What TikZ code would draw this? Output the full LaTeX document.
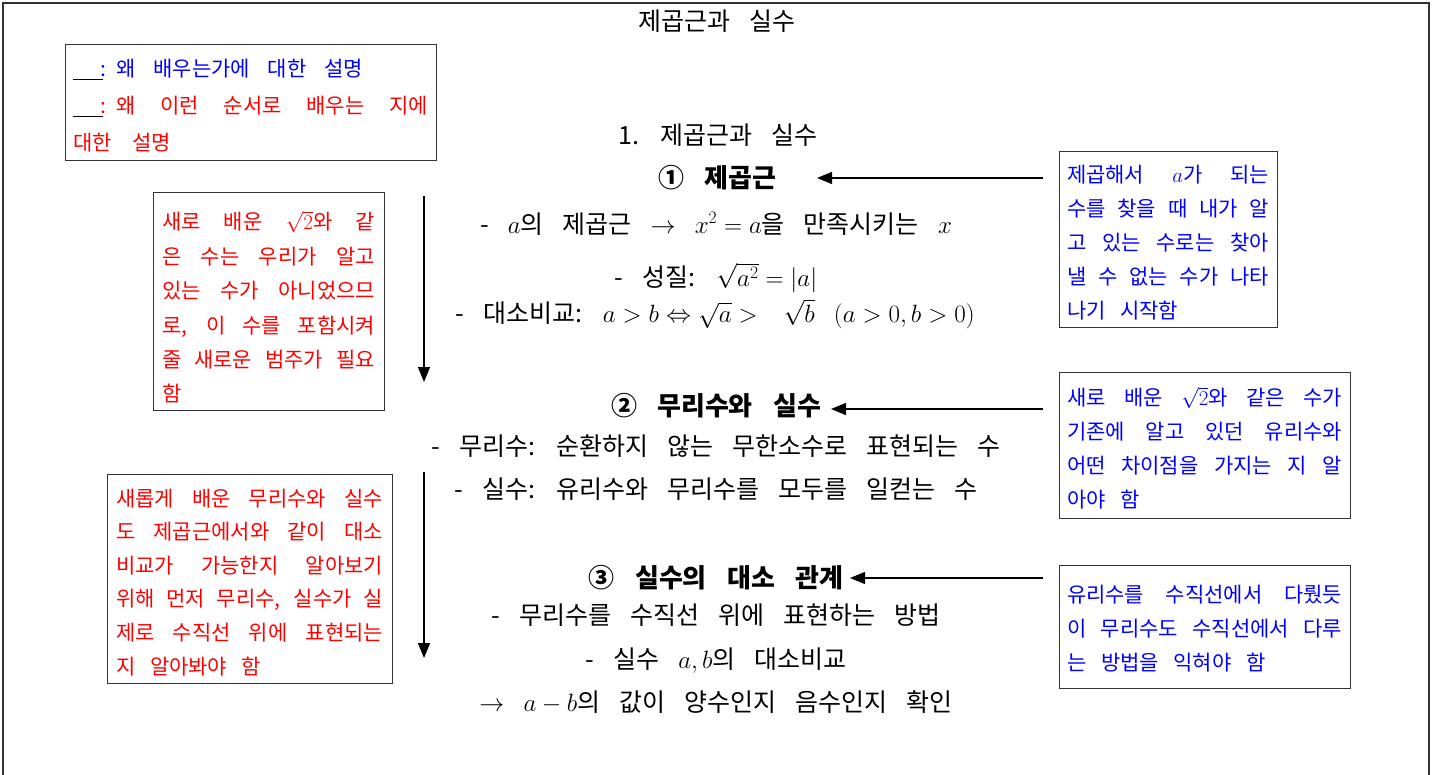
\RequirePackage{fix-cm}
\documentclass[tikz,border=0pt]{standalone}
\usepackage[no-math]{fontspec}
\setmainfont[WordSpace=3.4]{Noto Sans CJK KR}
\newfontfamily\boxfont[WordSpace=1.6]{Noto Sans CJK KR}
\usetikzlibrary{arrows.meta}
\newcommand\jl[1]{\makebox[\jw][s]{\spaceskip=0.3em plus 1fil minus 0.1em\relax #1}}
\newcommand\lastl[1]{{\spaceskip=0.7em\relax #1}}
\newcommand\lift[1]{\rule{0pt}{#1}}
\newcommand\blank{{\color{black}\rule[-4pt]{30pt}{0.9pt}}\hspace{-3pt}}
\tikzset{
  frameline/.style={line width=1.3pt, draw=black!80},
  notebox/.style={draw=black!80, line width=0.9pt, align=left, inner xsep=8pt, inner ysep=0pt,
    font=\boxfont\fontsize{21}{34}\selectfont},
  bodytext/.style={inner sep=0pt, text height=21pt, text depth=4pt, font=\fontsize{25}{28}\selectfont},
  headtext/.style={inner sep=0pt, text height=22pt, text depth=4pt, font=\fontsize{26}{28}\selectfont\bfseries},
  arr/.style={line width=1.4pt, -{Triangle[length=15pt,width=12pt]}},
}
\begin{document}
\begin{tikzpicture}[x=1pt,y=-1pt]
\useasboundingbox (0,0) rectangle (1435,774);
\draw[frameline] (3,776) -- (3,3) -- (1429,3) -- (1429,776);

% title
\node[bodytext] (title) at (717,22) {제곱근과 실수};

% legend
\node[notebox, text width=355pt, minimum width=371pt, minimum height=116pt,
  font=\boxfont\fontsize{21}{37}\selectfont] (legend) at (250.5,102)
  {\def\jw{355pt}\lift{24pt}{\spaceskip=0.85em\relax\blank\textcolor{blue}{: 왜 배우는가에 대한 설명}}\\
   \jl{\blank\textcolor{red}{:} \textcolor{red}{왜 이런 순서로 배우는 지에}}\\
   {\spaceskip=1em\relax\textcolor{red}{대한 설명}}};

% center text
\node[bodytext] (sec) at (718,136) {1. 제곱근과 실수};
\node[headtext] (h1) at (717,178) {① 제곱근};
\node[bodytext] (l11) at (716,224.5) {- $a$의 제곱근 $\rightarrow$ $x^{2}=a$을 만족시키는 $x$};
\node[bodytext] (l12) at (716,277.5) {- 성질: $\sqrt{a^{2}}=|a|$};
\node[bodytext] (l13) at (715,313.5) {- 대소비교: $a>b\Leftrightarrow\sqrt{a}>\ \sqrt{b}$ $(a>0,b>0)$};
\node[headtext] (h2) at (716,406) {② 무리수와 실수};
\node[bodytext] (l21) at (716,447) {- 무리수: 순환하지 않는 무한소수로 표현되는 수};
\node[bodytext] (l22) at (716,490) {- 실수: 유리수와 무리수를 모두를 일컫는 수};
\node[headtext] (h3) at (716,578) {③ 실수의 대소 관계};
\node[bodytext] (l31) at (716,616) {- 무리수를 수직선 위에 표현하는 방법};
\node[bodytext] (l32) at (716,660) {- 실수 $a,b$의 대소비교};
\node[bodytext] (l33) at (716,703) {$\rightarrow$ $a-b$의 값이 양수인지 음수인지 확인};

% red boxes (left)
\node[notebox, text width=213pt, minimum width=231pt, minimum height=218pt, text=red,
  font=\boxfont\fontsize{21}{34.4}\selectfont] (rb1) at (268.5,301)
  {\def\jw{213pt}\jl{\lift{31pt}새로 배운 $\sqrt{2}$와 같}\\
   \jl{은 수는 우리가 알고}\\
   \jl{있는 수가 아니었으므}\\
   \jl{로, 이 수를 포함시켜}\\
   \jl{줄 새로운 범주가 필요}\\
   함};
\node[notebox, text width=267pt, minimum width=285pt, minimum height=209pt, text=red,
  font=\boxfont\fontsize{21}{33.6}\selectfont] (rb2) at (249.5,578.5)
  {\def\jw{267pt}\jl{\lift{25pt}새롭게 배운 무리수와 실수}\\
   \jl{도 제곱근에서와 같이 대소}\\
   \jl{비교가 가능한지 알아보기}\\
   \jl{위해 먼저 무리수, 실수가 실}\\
   \jl{제로 수직선 위에 표현되는}\\
   \lastl{지 알아봐야 함}};

% blue boxes (right)
\node[notebox, text width=202pt, minimum width=218pt, minimum height=176pt, text=blue] (bb1) at (1168,239)
  {\def\jw{202pt}\jl{\lift{24pt}제곱해서 $a$가 되는}\\
   \jl{수를 찾을 때 내가 알}\\
   \jl{고 있는 수로는 찾아}\\
   \jl{낼 수 없는 수가 나타}\\
   \lastl{나기 시작함}};
\node[notebox, text width=275pt, minimum width=291pt, minimum height=146pt, text=blue] (bb2) at (1204.5,445)
  {\def\jw{275pt}\jl{\lift{25pt}새로 배운 $\sqrt{2}$와 같은 수가}\\
   \jl{기존에 알고 있던 유리수와}\\
   \jl{어떤 차이점을 가지는 지 알}\\
   \lastl{아야 함}};
\node[notebox, text width=275pt, minimum width=291pt, minimum height=123pt, text=blue] (bb3) at (1204.5,626.5)
  {\def\jw{275pt}\jl{\lift{21pt}유리수를 수직선에서 다뤘듯}\\
   \jl{이 무리수도 수직선에서 다루}\\
   \lastl{는 방법을 익혀야 함}};

% arrows
\coordinate (t1) at (817,178);
\coordinate (t2) at (831,409);
\coordinate (t3) at (850,578);
\draw[arr] ([xshift=-16pt]bb1.west |- t1) -- (t1);
\draw[arr] ([xshift=-16pt]bb2.west |- t2) -- (t2);
\draw[arr] ([xshift=-16pt]bb3.west |- t3) -- (t3);

\coordinate (v1s) at (424,196);
\coordinate (v1e) at (424,382);
\coordinate (v2s) at (424,472);
\coordinate (v2e) at (424,658);
\draw[arr] (v1s) -- (v1e);
\draw[arr] (v2s) -- (v2e);
\end{tikzpicture}
\end{document}
